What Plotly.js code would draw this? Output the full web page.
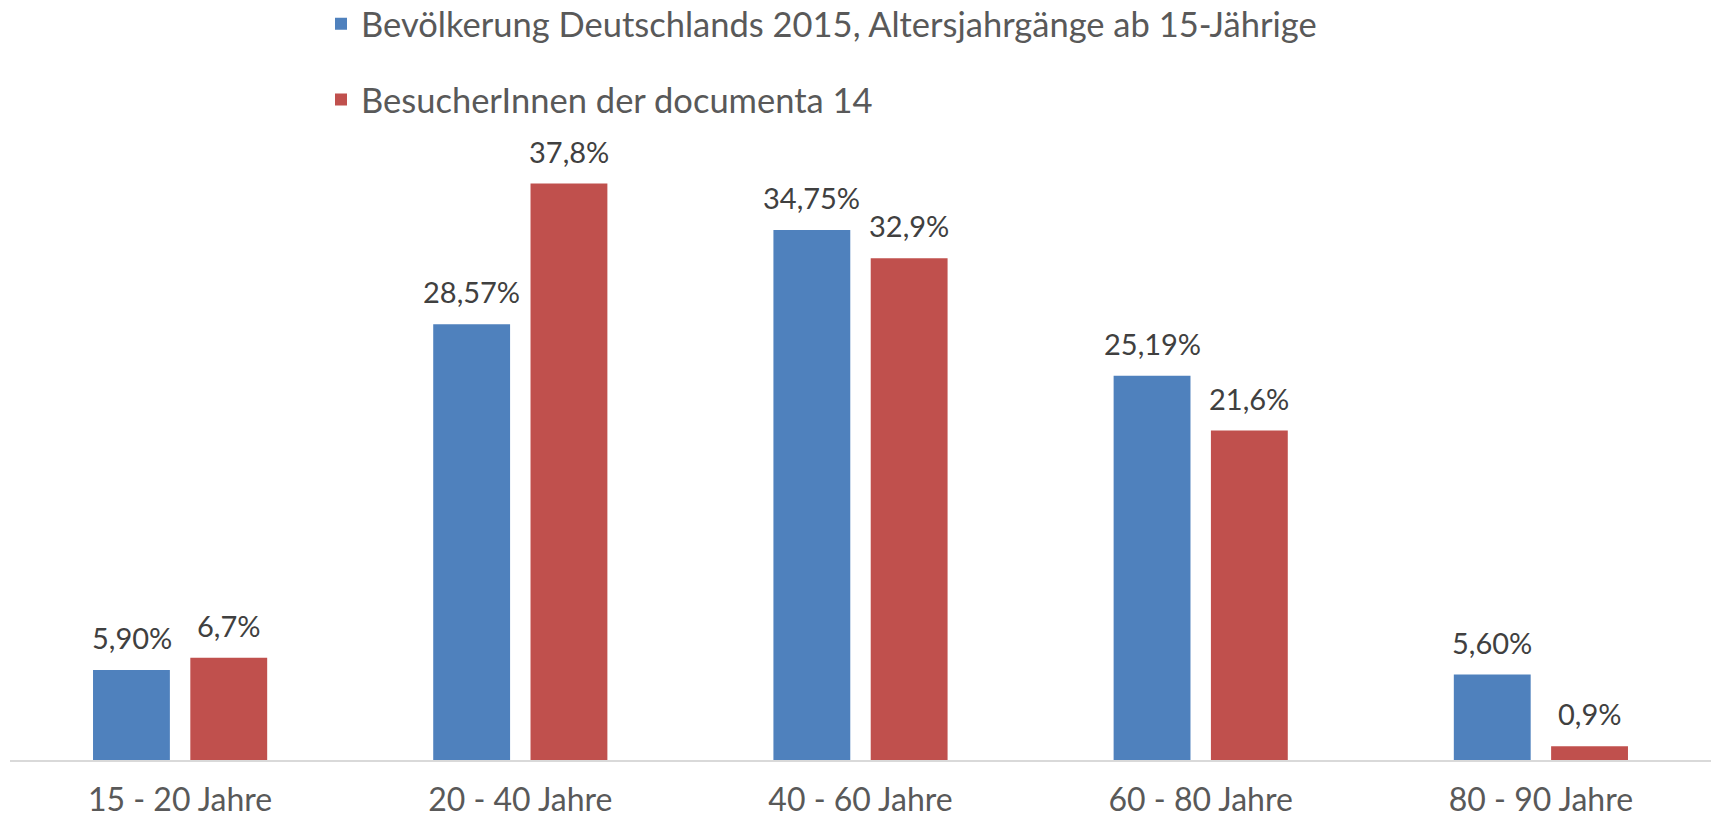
<!DOCTYPE html>
<html>
<head>
<meta charset="utf-8">
<script src="https://cdn.plot.ly/plotly-3.0.1.min.js"></script>
<style>html,body{margin:0;padding:0;background:#fff;}#chart{width:1711px;height:823px;}</style>
</head>
<body>
<div id="chart"></div>
<script>
const categories = ["15 - 20 Jahre", "20 - 40 Jahre", "40 - 60 Jahre", "60 - 80 Jahre", "80 - 90 Jahre"];
const seriesNames = ["Bevölkerung Deutschlands 2015, Altersjahrgänge ab 15-Jährige", "BesucherInnen der documenta 14"];
const bevoelkerung = [5.90, 28.57, 34.75, 25.19, 5.60];
const besucher = [6.7, 37.8, 32.9, 21.6, 0.9];
const bevoelkerungLabels = ["5,90%", "28,57%", "34,75%", "25,19%", "5,60%"];
const besucherLabels = ["6,7%", "37,8%", "32,9%", "21,6%", "0,9%"];

const FONT = "Lato, 'Open Sans', sans-serif";
const colors = ["#4F81BD", "#C0504D"];

const traces = [
  {type: "bar", name: seriesNames[0], x: categories, y: bevoelkerung, marker: {color: colors[0]}, legendgroup: "a", hoverinfo: "none"},
  {type: "bar", name: seriesNames[1], x: categories, y: besucher, marker: {color: colors[1]}, legendgroup: "b", hoverinfo: "none"}
];

const annotations = [];
const offset = 48.6;
[[bevoelkerung, bevoelkerungLabels, -offset], [besucher, besucherLabels, offset]].forEach(([vals, labs, xs]) => {
  vals.forEach((v, i) => {
    annotations.push({
      x: categories[i], y: v, xref: "x", yref: "y", text: labs[i], showarrow: false,
      xanchor: "center", yanchor: "bottom", xshift: xs, yshift: 13,
      font: {family: FONT, size: 29, color: "#404040"}
    });
  });
});

const layout = {
  width: 1711, height: 823,
  margin: {l: 10, r: 0, t: 150, b: 63},
  paper_bgcolor: "#fff", plot_bgcolor: "#fff",
  barmode: "group", bargap: 0.428, bargroupgap: 0.21,
  showlegend: true,
  legend: {
    orientation: "v", x: (321 - 10) / 1701, xref: "paper", xanchor: "left",
    y: 0.925, yref: "container", yanchor: "middle",
    font: {family: FONT, size: 34.5, color: "#595959"},
    tracegroupgap: 28, bgcolor: "rgba(0,0,0,0)"
  },
  xaxis: {
    type: "category", range: [-0.5, 4.5], showgrid: false, zeroline: false,
    showline: true, linecolor: "#d9d9d9", linewidth: 2,
    ticks: "outside", ticklen: 11, tickcolor: "rgba(0,0,0,0)",
    tickfont: {family: FONT, size: 32, color: "#595959"}, fixedrange: true
  },
  yaxis: {range: [0, 40], visible: false, showgrid: false, zeroline: false, fixedrange: true},
  annotations: annotations,
  font: {family: FONT}
};

Plotly.newPlot("chart", traces, layout, {displayModeBar: false, staticPlot: true});
</script>
</body>
</html>
